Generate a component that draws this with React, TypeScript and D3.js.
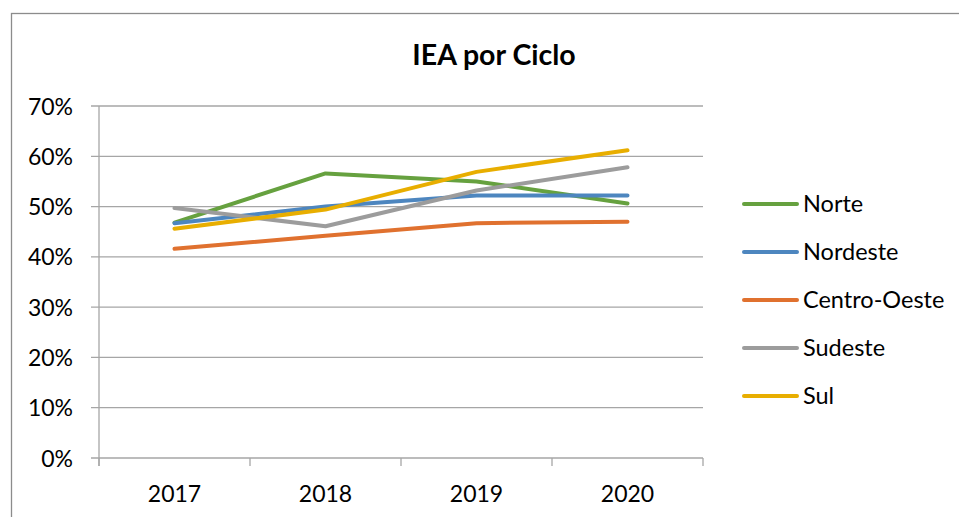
import { useEffect, useRef } from "react";
import * as d3 from "d3";

const years = ["2017", "2018", "2019", "2020"];
const yTicks = [0, 0.1, 0.2, 0.3, 0.4, 0.5, 0.6, 0.7];

const norte = [0.468, 0.566, 0.55, 0.506];
const nordeste = [0.467, 0.5, 0.522, 0.522];
const centroOeste = [0.416, 0.442, 0.467, 0.47];
const sudeste = [0.497, 0.461, 0.532, 0.578];
const sul = [0.456, 0.494, 0.569, 0.612];

const series = [
  { name: "Norte", values: norte, color: "#66a13f" },
  { name: "Nordeste", values: nordeste, color: "#4d86bf" },
  { name: "Centro-Oeste", values: centroOeste, color: "#e0712f" },
  { name: "Sudeste", values: sudeste, color: "#9c9c9c" },
  { name: "Sul", values: sul, color: "#e8ae00" },
];

const FONT = "Lato, 'Open Sans', sans-serif";

export default function App() {
  const ref = useRef<SVGSVGElement | null>(null);

  useEffect(() => {
    if (!ref.current) return;
    const svg = d3.select(ref.current);
    svg.selectAll("*").remove();

    const W = 959;
    const H = 517;
    const plot = { left: 99, right: 703, top: 106, bottom: 458 };

    // outer frame, clipped by the window on the right and bottom
    svg.append("rect")
      .attr("x", 11.5).attr("y", 13.5)
      .attr("width", W).attr("height", H)
      .attr("fill", "white").attr("stroke", "#8c8c8c").attr("stroke-width", 1.3);

    svg.append("text")
      .attr("x", 494).attr("y", 65)
      .attr("text-anchor", "middle")
      .attr("font-family", FONT).attr("font-weight", "bold").attr("font-size", 28.5)
      .text("IEA por Ciclo");

    const x = d3.scaleBand().domain(years).range([plot.left, plot.right]);
    const y = d3.scaleLinear().domain([0, 0.7]).range([plot.bottom, plot.top]);

    const g = svg.append("g");

    // gridlines
    g.append("g")
      .selectAll("line")
      .data(yTicks)
      .join("line")
      .attr("x1", plot.left - 8).attr("x2", plot.right)
      .attr("y1", (d) => y(d)).attr("y2", (d) => y(d))
      .attr("stroke", "#a6a6a6").attr("stroke-width", 1.3);

    // y axis
    g.append("line")
      .attr("x1", plot.left).attr("x2", plot.left)
      .attr("y1", plot.top).attr("y2", plot.bottom + 8)
      .attr("stroke", "#a6a6a6").attr("stroke-width", 1.3);

    g.append("g")
      .selectAll("text")
      .data(yTicks)
      .join("text")
      .attr("x", 73).attr("y", (d) => y(d) + 8.5)
      .attr("text-anchor", "end")
      .attr("font-family", FONT).attr("font-size", 23)
      .text((d) => d3.format(".0%")(d));

    // x ticks at category boundaries
    const bounds = years.map((yr) => x(yr)!).concat([plot.right]);
    g.append("g")
      .selectAll("line")
      .data(bounds)
      .join("line")
      .attr("x1", (d) => d).attr("x2", (d) => d)
      .attr("y1", plot.bottom).attr("y2", plot.bottom + 8)
      .attr("stroke", "#a6a6a6").attr("stroke-width", 1.3);

    g.append("g")
      .selectAll("text")
      .data(years)
      .join("text")
      .attr("x", (d) => x(d)! + x.bandwidth() / 2)
      .attr("y", 502)
      .attr("text-anchor", "middle")
      .attr("font-family", FONT).attr("font-size", 23)
      .text((d) => d);

    const line = d3.line<number>()
      .x((_, i) => x(years[i])! + x.bandwidth() / 2)
      .y((d) => y(d));

    for (const s of series) {
      g.append("path")
        .datum(s.values)
        .attr("d", line)
        .attr("fill", "none")
        .attr("stroke", s.color)
        .attr("stroke-width", 4)
        .attr("stroke-linecap", "round")
        .attr("stroke-linejoin", "round");
    }

    // legend
    const legend = svg.append("g").attr("transform", "translate(744,204)");
    series.forEach((s, i) => {
      const row = legend.append("g").attr("transform", `translate(0,${i * 48})`);
      row.append("line")
        .attr("x1", 0).attr("x2", 53).attr("y1", 0).attr("y2", 0)
        .attr("stroke", s.color).attr("stroke-width", 4).attr("stroke-linecap", "round");
      row.append("text")
        .attr("x", 59).attr("y", 8)
        .attr("font-family", FONT).attr("font-size", 23.5)
        .text(s.name);
    });
  }, []);

  return (
    <svg
      ref={ref}
      width={959}
      height={517}
      style={{ position: "absolute", left: 0, top: 0, display: "block" }}
    />
  );
}
